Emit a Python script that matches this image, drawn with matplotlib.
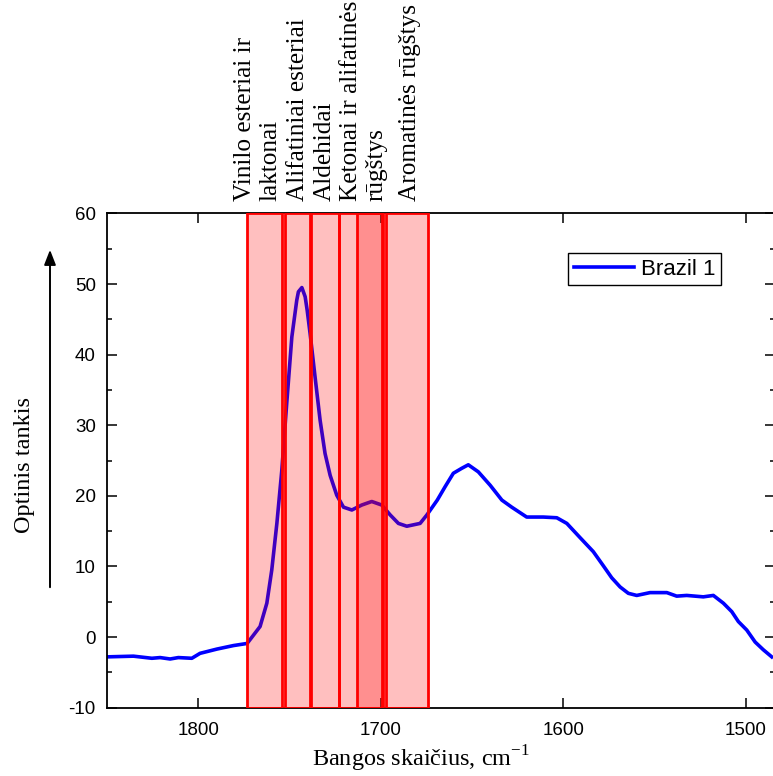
import numpy as np
import matplotlib.pyplot as plt

# spectrum (wavenumber, optical density)
wavenumber = [1850, 1835.5, 1825.4, 1820.9, 1815.4, 1810.9, 1803.5, 1799, 1789.8, 1780.7,
              1773.2, 1766.1, 1762.4, 1759.7, 1756.9, 1754.2, 1751.5, 1748.7, 1746, 1745.1,
              1743.2, 1741.4, 1740.3, 1738.7, 1736, 1733.2, 1730.5, 1727.7, 1724.1, 1720.4,
              1715.8, 1710.4, 1704.9, 1699.4, 1694.8, 1690.3, 1685.7, 1678.4, 1674.7, 1669,
              1664.7, 1660.2, 1655.6, 1652, 1646.5, 1640, 1633.6, 1628.2, 1620, 1610.9,
              1603.5, 1598, 1590.8, 1583.5, 1578, 1573.4, 1568.8, 1564.3, 1559.7, 1552.4,
              1543.2, 1537.8, 1532.3, 1523.2, 1517.7, 1512.2, 1507.6, 1504, 1499.4, 1494.8,
              1490.3, 1485.7]
density = [-2.8, -2.7, -3.0, -2.9, -3.1, -2.9, -3.0, -2.3, -1.7, -1.2,
           -0.9, 1.5, 4.8, 9.5, 16.1, 23.6, 33.1, 42.5, 47.7, 48.9,
           49.5, 48.2, 46.3, 43.0, 36.9, 30.7, 26.0, 22.9, 20.1, 18.4,
           18.0, 18.7, 19.2, 18.7, 17.3, 16.1, 15.7, 16.1, 17.3, 19.4,
           21.3, 23.2, 23.9, 24.4, 23.4, 21.5, 19.4, 18.4, 17.0, 17.0,
           16.9, 16.1, 14.1, 12.1, 10.1, 8.4, 7.1, 6.2, 5.9, 6.3,
           6.3, 5.8, 5.9, 5.7, 5.9, 4.8, 3.6, 2.2, 1.0, -0.7,
           -1.8, -2.8]

# band regions (cm-1), left and right edges
band_left = [1773, 1752.5, 1738, 1722.8, 1713, 1697]
band_right = [1754, 1738.6, 1723, 1698.5, 1699.5, 1674]

# labels above the plot and where they sit (cm-1)
band_labels = ['Vinilo esteriai ir\nlaktonai', 'Alifatiniai esteriai', 'Aldehidai',
               'Ketonai ir alifatinės\nrūgštys', 'Aromatinės rūgštys']
label_pos = [1767.6, 1745.3, 1730.8, 1709.2, 1683.8]

serif = 'Liberation Serif'
sans = 'Liberation Sans'
plt.rcParams['axes.unicode_minus'] = False
plt.rcParams['mathtext.fontset'] = 'custom'
plt.rcParams['mathtext.rm'] = serif

fig = plt.figure(figsize=(7.73, 7.76), dpi=100)
ax = fig.add_axes([0.1384, 0.088, 0.864, 0.637])

ax.plot(wavenumber, density, color='#0000ff', lw=2.6, label='Brazil 1', zorder=2)

for l, r in zip(band_left, band_right):
    ax.axvspan(l, r, facecolor=(1, 0, 0, 0.25), edgecolor='red', lw=2.0, zorder=3)

ax.set_xlim(1850, 1484)
ax.set_ylim(-10, 60)
ax.set_xticks([1800, 1700, 1600, 1500])
ax.set_yticks(np.arange(-10, 61, 10))
ax.set_yticks(np.arange(-5, 60, 10), minor=True)
ax.tick_params(which='both', direction='in', top=True, right=True, width=1.1)
ax.tick_params(which='major', length=7)
ax.tick_params(which='minor', length=3.5)
ax.tick_params(axis='x', pad=10)
ax.tick_params(axis='y', pad=8)
for t in ax.get_xticklabels() + ax.get_yticklabels():
    t.set_fontfamily(sans)
    t.set_fontsize(13.5)
for s in ax.spines.values():
    s.set_linewidth(1.3)

ax.set_xlabel('Bangos skaičius, cm$^{\\mathrm{-1}}$', fontfamily=serif, fontsize=17.5)
ax.xaxis.set_label_coords(0.47, -0.072)
ax.set_ylabel('Optinis tankis', fontfamily=serif, fontsize=17.5)
ax.yaxis.set_label_coords(-0.108, 0.49)

# band labels, rotated, above the axes
for lab, x in zip(band_labels, label_pos):
    ax.text(x, 1.025, lab, transform=ax.get_xaxis_transform(), rotation=90,
            ha='center', va='bottom', multialignment='left',
            fontfamily=serif, fontsize=18.2, linespacing=1.2)

# arrow beside the y label
ax.annotate('', xy=(50 / 773, 1 - 247 / 776), xytext=(50 / 773, 1 - 590 / 776),
            xycoords='figure fraction', textcoords='figure fraction',
            arrowprops=dict(arrowstyle='-|>,head_width=0.35,head_length=0.9',
                            color='black', lw=1.4))

leg = ax.legend(loc='upper right', bbox_to_anchor=(0.919, 0.92), fancybox=False,
                edgecolor='black', framealpha=1, borderaxespad=0, borderpad=0.25,
                handlelength=2.7, handletextpad=0.3,
                prop={'family': sans, 'size': 16})
leg.get_frame().set_linewidth(1.0)

plt.savefig('out.png', dpi=100)
